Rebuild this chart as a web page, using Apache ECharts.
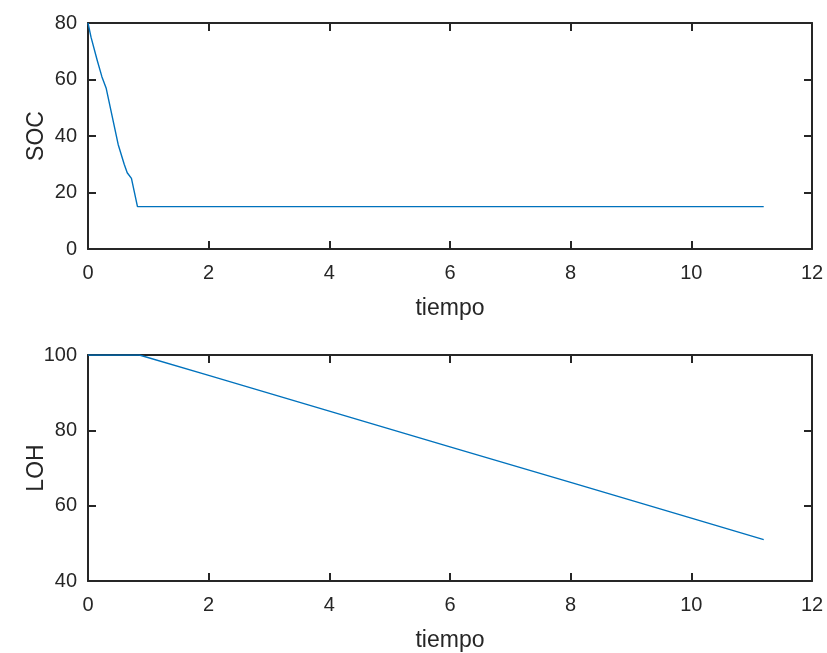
<!DOCTYPE html>
<html><head><meta charset="utf-8">
<script src="https://cdn.jsdelivr.net/npm/echarts@6/dist/echarts.min.js"></script>
<style>html,body{margin:0;padding:0;background:#fff}#c{width:827px;height:653px}</style>
</head><body><div id="c"></div>
<script>
const xTicks = [0, 2, 4, 6, 8, 10, 12];
const socTime = [0, 0.05, 0.15, 0.23, 0.3, 0.4, 0.5, 0.6, 0.65, 0.72, 0.82, 1.5, 3, 5, 7, 9, 11.2];
const socVals = [80, 75, 67, 61, 57, 47, 37, 30, 27, 25, 15, 15, 15, 15, 15, 15, 15];
const lohTime = [0, 0.4, 0.85, 2, 4, 6, 8, 10, 11.2];
const lohVals = [100, 100, 100, 94.6, 85.1, 75.6, 66.2, 56.7, 51];

const axisColor = '#262626';
const font = 'Liberation Sans, Arial, sans-serif';
function pairs(t, v) { return t.map((x, i) => [x, v[i]]); }
function xAx(gi, pos, labels) {
  return {
    type: 'value', gridIndex: gi, position: pos, min: 0, max: 12, interval: 2,
    axisLine: { show: true, onZero: false, lineStyle: { color: axisColor, width: 2 } },
    axisTick: { show: true, inside: true, length: 8, lineStyle: { color: axisColor, width: 2 } },
    axisLabel: { show: labels, color: axisColor, fontSize: 20, fontFamily: font, margin: 14 },
    splitLine: { show: false },
    name: labels ? 'tiempo' : '', nameLocation: 'middle', nameGap: 48, nameMoveOverlap: false,
    nameTextStyle: { color: axisColor, fontSize: 23, fontFamily: font }
  };
}
function yAx(gi, pos, labels, min, max, interval, name) {
  return {
    type: 'value', gridIndex: gi, position: pos, min: min, max: max, interval: interval,
    axisLine: { show: true, onZero: false, lineStyle: { color: axisColor, width: 2 } },
    axisTick: { show: true, inside: true, length: 8, lineStyle: { color: axisColor, width: 2 } },
    axisLabel: { show: labels, color: axisColor, fontSize: 20, fontFamily: font, margin: 11 },
    splitLine: { show: false },
    name: labels ? name : '', nameLocation: 'middle', nameGap: 40, nameRotate: 90, nameMoveOverlap: false,
    nameTextStyle: { color: axisColor, fontSize: 23, fontFamily: font }
  };
}
const chart = echarts.init(document.getElementById('c'), null, { renderer: 'canvas' });
chart.setOption({
  animation: false,
  backgroundColor: '#fff',
  grid: [
    { left: 88, top: 23, width: 724, height: 226 },
    { left: 88, top: 355, width: 724, height: 228 }
  ],
  xAxis: [xAx(0, 'bottom', true), xAx(0, 'top', false), xAx(1, 'bottom', true), xAx(1, 'top', false)],
  yAxis: [
    yAx(0, 'left', true, 0, 80, 20, 'SOC'), yAx(0, 'right', false, 0, 80, 20, ''),
    yAx(1, 'left', true, 40, 100, 20, 'LOH'), yAx(1, 'right', false, 40, 100, 20, '')
  ],
  series: [
    { type: 'line', xAxisIndex: 0, yAxisIndex: 0, data: pairs(socTime, socVals), showSymbol: false,
      lineStyle: { color: '#0072BD', width: 1.4 } },
    { type: 'line', xAxisIndex: 2, yAxisIndex: 2, data: pairs(lohTime, lohVals), showSymbol: false,
      lineStyle: { color: '#0072BD', width: 1.4 } }
  ]
});
</script></body></html>
